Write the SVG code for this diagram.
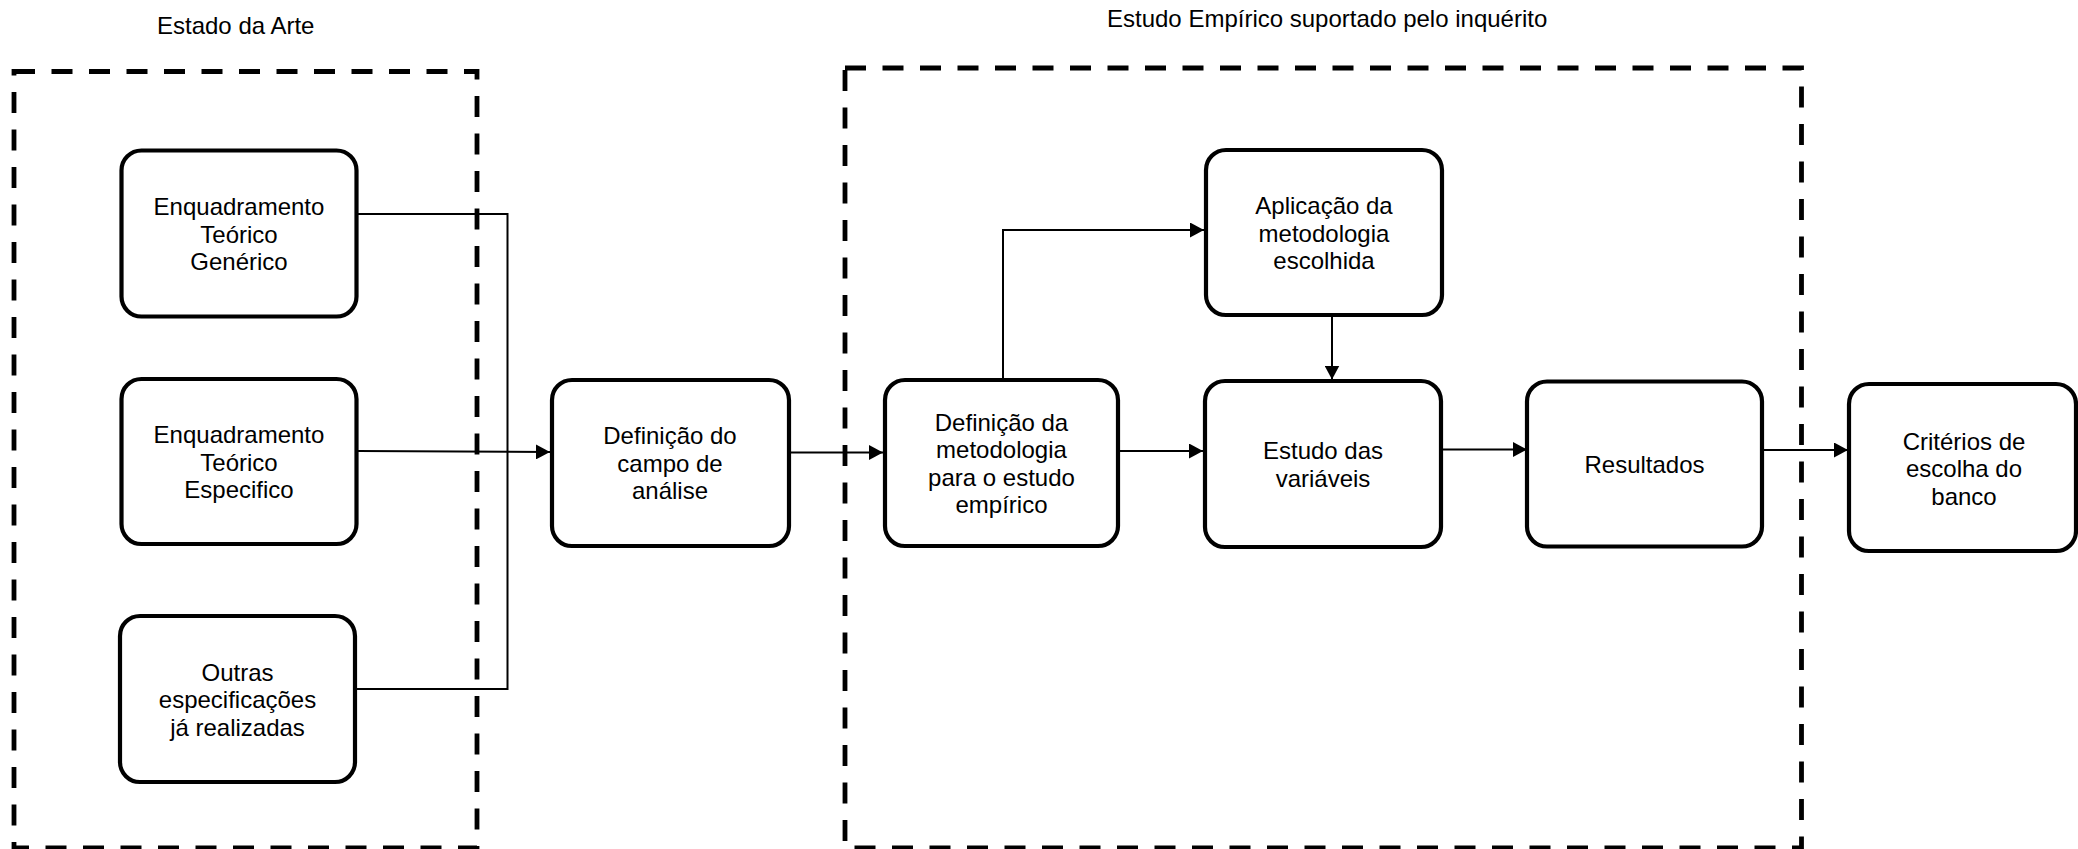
<svg xmlns="http://www.w3.org/2000/svg" width="2078" height="849" viewBox="0 0 2078 849">
<style>
  .frame { fill: none; stroke: #000; stroke-width: 4.8; stroke-dasharray: 21 16.5; }
  .node rect { fill: #fff; stroke: #000; stroke-width: 4.2; }
  text { font-family: "Liberation Sans", Arial, sans-serif; font-size: 24px; fill: #000; text-anchor: middle; }
  .title { text-anchor: start; }
  .conn { fill: none; stroke: #000; stroke-width: 2; }
</style>
<defs>
  <marker id="arr" markerUnits="userSpaceOnUse" markerWidth="14" markerHeight="15" refX="14" refY="7.5" orient="auto">
    <path d="M0,0 L14,7.5 L0,15 Z" fill="#000"/>
  </marker>
</defs>
<rect width="2078" height="849" fill="#fff"/>

<g id="frame-estado-da-arte">
  <rect class="frame" x="14" y="71.5" width="463" height="776.5"/>
  <text class="title" x="157" y="34">Estado da Arte</text>
</g>
<g id="frame-estudo-empirico">
  <rect class="frame" x="845" y="68" width="956.5" height="780"/>
  <text class="title" x="1107" y="27">Estudo Empírico suportado pelo inquérito</text>
</g>

<g id="connectors">
  <polyline class="conn" points="356.5,214 507.5,214 507.5,689 355,689"/>
  <line class="conn" x1="358" y1="451" x2="550" y2="452" marker-end="url(#arr)"/>
  <line class="conn" x1="789" y1="452.5" x2="883" y2="452.5" marker-end="url(#arr)"/>
  <polyline class="conn" points="1003,380 1003,230 1204,230" marker-end="url(#arr)"/>
  <line class="conn" x1="1332" y1="316" x2="1332" y2="379.5" marker-end="url(#arr)"/>
  <line class="conn" x1="1117" y1="451" x2="1203" y2="451" marker-end="url(#arr)"/>
  <line class="conn" x1="1442" y1="449.5" x2="1527" y2="449.5" marker-end="url(#arr)"/>
  <line class="conn" x1="1762" y1="450" x2="1848" y2="450" marker-end="url(#arr)"/>
</g>

<g id="node-enquadramento-generico" class="node">
  <rect x="121.5" y="150.5" width="235" height="166" rx="20"/>
  <text x="239" y="215">Enquadramento</text>
  <text x="239" y="242.5">Teórico</text>
  <text x="239" y="270">Genérico</text>
</g>
<g id="node-enquadramento-especifico" class="node">
  <rect x="121.5" y="379" width="235" height="165" rx="20"/>
  <text x="239" y="443">Enquadramento</text>
  <text x="239" y="470.5">Teórico</text>
  <text x="239" y="498">Especifico</text>
</g>
<g id="node-outras-especificacoes" class="node">
  <rect x="120" y="616" width="235" height="166" rx="20"/>
  <text x="237.5" y="680.5">Outras</text>
  <text x="237.5" y="708">especificações</text>
  <text x="237.5" y="735.5">já realizadas</text>
</g>
<g id="node-definicao-campo" class="node">
  <rect x="552" y="380" width="237" height="166" rx="20"/>
  <text x="670" y="444">Definição do</text>
  <text x="670" y="471.5">campo de</text>
  <text x="670" y="499">análise</text>
</g>
<g id="node-definicao-metodologia" class="node">
  <rect x="885" y="380" width="233" height="166" rx="20"/>
  <text x="1001.5" y="430.5">Definição da</text>
  <text x="1001.5" y="458">metodologia</text>
  <text x="1001.5" y="485.5">para o estudo</text>
  <text x="1001.5" y="513">empírico</text>
</g>
<g id="node-aplicacao" class="node">
  <rect x="1206" y="150" width="236" height="165" rx="20"/>
  <text x="1324" y="214">Aplicação da</text>
  <text x="1324" y="241.5">metodologia</text>
  <text x="1324" y="269">escolhida</text>
</g>
<g id="node-estudo-variaveis" class="node">
  <rect x="1205" y="381" width="236" height="166" rx="20"/>
  <text x="1323" y="459">Estudo das</text>
  <text x="1323" y="486.5">variáveis</text>
</g>
<g id="node-resultados" class="node">
  <rect x="1527" y="381.5" width="235" height="165" rx="20"/>
  <text x="1644.5" y="472.5">Resultados</text>
</g>
<g id="node-criterios" class="node">
  <rect x="1849" y="384" width="227" height="167" rx="20"/>
  <text x="1964" y="449.5">Critérios de</text>
  <text x="1964" y="477">escolha do</text>
  <text x="1964" y="504.5">banco</text>
</g>
</svg>
